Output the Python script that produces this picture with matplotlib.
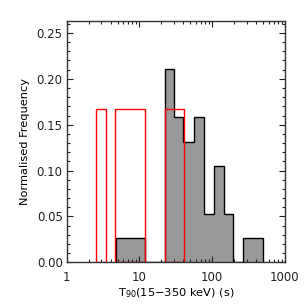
import matplotlib
matplotlib.use("Agg")
import matplotlib.pyplot as plt
from matplotlib.ticker import MultipleLocator, LogLocator, FixedLocator

# grey histogram (all bursts)
grey_edges = [4.76, 11.9, 22.5, 29.9, 40.1, 56.8, 77.1, 105.9, 143.9, 195.0, 268.0, 504.0]
grey_freq = [0.0263, 0.0, 0.2105, 0.158, 0.1316, 0.158, 0.0526, 0.105, 0.0526, 0.0, 0.0263]

# red histogram (subsample)
red_left = [2.53, 4.66, 22.5]
red_right = [3.47, 11.9, 41.4]
red_freq = [0.1667, 0.1667, 0.1667]

fig = plt.figure(figsize=(3.05, 3.05), dpi=100)
ax = fig.add_axes([0.219, 0.140, 0.715, 0.791])

ax.stairs(grey_freq, grey_edges, fill=True, color="#999999", zorder=1)
ax.stairs(grey_freq, grey_edges, color="black", linewidth=1.0, zorder=2)

widths = [r - l for l, r in zip(red_left, red_right)]
ax.bar(red_left, red_freq, width=widths, align="edge", fill=False,
       edgecolor="red", linewidth=1.0, zorder=3)

ax.set_xscale("log")
ax.set_xlim(1, 1000)
ax.set_ylim(0, 0.263)

ax.yaxis.set_major_locator(MultipleLocator(0.05))
ax.yaxis.set_minor_locator(MultipleLocator(0.01))
ax.yaxis.set_major_formatter(plt.FuncFormatter(lambda v, p: "%.2f" % v))
ax.xaxis.set_major_locator(FixedLocator([1, 10, 100, 1000]))
ax.xaxis.set_minor_locator(LogLocator(base=10, subs=range(2, 10)))
ax.xaxis.set_major_formatter(plt.FuncFormatter(lambda v, p: "%d" % v))

ax.tick_params(which="both", direction="in", top=True, right=True,
               labelsize=8.5, colors="#222222")
ax.tick_params(axis="y", pad=3)
ax.tick_params(axis="x", pad=6)
ax.tick_params(which="major", length=4, width=0.8)
ax.tick_params(which="minor", length=2, width=0.8)
for s in ax.spines.values():
    s.set_linewidth(1.0)
    s.set_color("#333333")
    s.set_zorder(5)

ax.set_xlabel(r"T$_{90}$(15$-$350 keV) (s)", fontsize=8.2, labelpad=2)
ax.set_ylabel("Normalised Frequency", fontsize=8.2, labelpad=5)

fig.savefig("out.png", dpi=100)
